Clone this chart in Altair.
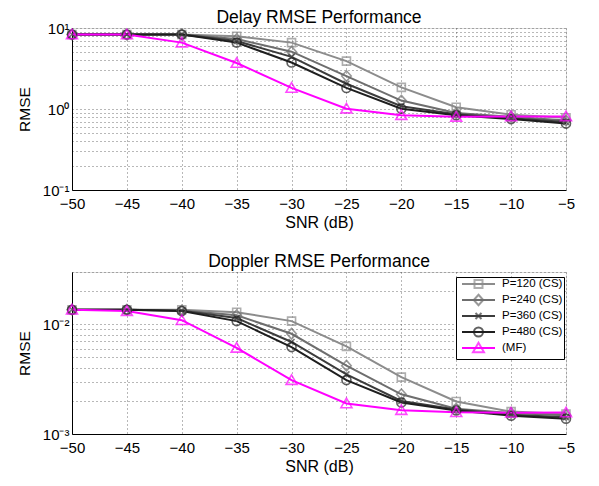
import altair as alt
import pandas as pd

snr = [-50, -45, -40, -35, -30, -25, -20, -15, -10, -5]
series = ["P=120 (CS)", "P=240 (CS)", "P=360 (CS)", "P=480 (CS)", "(MF)"]

delay_p120 = [8.3, 8.3, 8.3, 7.9, 6.6, 3.9, 1.85, 1.05, 0.85, 0.78]
delay_p240 = [8.3, 8.3, 8.3, 7.3, 5.1, 2.55, 1.27, 0.89, 0.80, 0.72]
delay_p360 = [8.3, 8.3, 8.3, 6.9, 4.4, 2.05, 1.08, 0.86, 0.77, 0.69]
delay_p480 = [8.3, 8.3, 8.3, 6.6, 3.75, 1.82, 1.01, 0.84, 0.75, 0.66]
delay_mf = [8.3, 8.3, 6.6, 3.7, 1.82, 1.01, 0.84, 0.80, 0.81, 0.81]

dop_p120 = [0.0136, 0.0136, 0.0136, 0.0129, 0.0107, 0.0063, 0.0033, 0.00198, 0.0016, 0.00152]
dop_p240 = [0.0136, 0.0136, 0.0134, 0.0121, 0.0082, 0.0042, 0.0023, 0.0017, 0.00155, 0.00148]
dop_p360 = [0.0136, 0.0136, 0.0133, 0.0114, 0.0069, 0.0035, 0.0020, 0.00167, 0.0015, 0.00142]
dop_p480 = [0.0136, 0.0136, 0.0132, 0.0107, 0.0062, 0.0031, 0.00194, 0.00164, 0.00147, 0.00138]
dop_mf = [0.0136, 0.0132, 0.0109, 0.0061, 0.0031, 0.0019, 0.00165, 0.00158, 0.00156, 0.00157]

colors = ["#8c8c8c", "#6e6e6e", "#3c3c3c", "#1e1e1e", "#ff00ff"]
# equal invisible vertical extents keep every legend row the same height
PAD = "M0,-1.05l0,0M0,1.05l0,0"
marker_paths = [
    "M-0.8,-0.8H0.8V0.8H-0.8Z" + PAD,
    "M0,-1.05L0.95,0L0,1.05L-0.95,0Z" + PAD,
    "M-0.6,-0.6L0.6,0.6M-0.6,0.6L0.6,-0.6" + PAD,
    "M-0.9,0A0.9,0.9 0 1,0 0.9,0A0.9,0.9 0 1,0 -0.9,0Z" + PAD,
    "M0,-1.05L1.1,0.85L-1.1,0.85Z" + PAD,
]
LINE_PATH = "M-3.3,0H3.3" + PAD
series_line = [s + " " for s in series]  # separate key so the line legend is not merged


def make_df(vals):
    rows = []
    for name, v in zip(series, vals):
        for s, y in zip(snr, v):
            rows.append({"SNR": s, "RMSE": y, "Method": name, "Method2": name + " "})
    return pd.DataFrame(rows)


df_delay = make_df([delay_p120, delay_p240, delay_p360, delay_p480, delay_mf])
df_dop = make_df([dop_p120, dop_p240, dop_p360, dop_p480, dop_mf])

FONT = "Liberation Sans"
LX, LY = 384, 5


def panel(df, title, ydomain, yvals, labels, with_legend):
    lab_expr = " : ".join(f"datum.value == {v} ? '{t}'" for v, t in labels) + " : ''"
    x = alt.X("SNR:Q", scale=alt.Scale(domain=[-50, -5], nice=False),
              axis=alt.Axis(values=snr, title="SNR (dB)", grid=True, gridDash=[1, 3],
                            gridColor="#333", gridWidth=0.7, ticks=False, labelPadding=6,
                            labelFlush=False,
                            labelFontSize=15, titleFontSize=16, titleFontWeight="normal",
                            titlePadding=3, labelColor="black", titleColor="black",
                            domainColor="black", labelFont=FONT, titleFont=FONT))
    y = alt.Y("RMSE:Q", scale=alt.Scale(type="log", domain=ydomain, nice=False),
              axis=alt.Axis(values=yvals, labelExpr=lab_expr, title="RMSE", grid=True,
                            gridDash=[1, 3], gridColor="#333", gridWidth=0.7, ticks=False,
                            labelFontSize=15, titleFontSize=15.5, titleFontWeight="normal",
                            labelColor="black", titleColor="black", domainColor="black",
                            labelFont=FONT, titleFont=FONT, labelPadding=3, titlePadding=10,
                            labelOverlap=False))
    common = dict(title=None, orient="none", legendX=LX, legendY=LY, padding=1,
                  labelFontSize=11.5, labelFont=FONT, symbolSize=100, symbolOffset=15.5,
                  labelOffset=17.5, rowPadding=-7.2, symbolStrokeWidth=2)
    if with_legend:
        legA = alt.Legend(strokeColor="black", fillColor="white", labelColor="black",
                          symbolType=LINE_PATH, zindex=1, **common)
        legB = alt.Legend(labelColor="transparent", zindex=2, **common)
    else:
        legA = None
        legB = None
    strokeA = alt.Stroke("Method2:N", scale=alt.Scale(domain=series_line, range=colors), legend=legA)
    colorB = alt.Color("Method:N", scale=alt.Scale(domain=series, range=colors), legend=legB)
    shapeB = alt.Shape("Method:N", scale=alt.Scale(domain=series, range=marker_paths), legend=legB)
    lines = alt.Chart(df).mark_line(strokeWidth=2).encode(x=x, y=y, stroke=strokeA)
    pts = alt.Chart(df).mark_point(filled=False, size=100, strokeWidth=1.6).encode(
        x=x, y=y, color=colorB, shape=shapeB)
    return alt.layer(lines, pts).properties(
        width=494, height=162,
        title=alt.TitleParams(title, fontSize=17.5, fontWeight="normal", font=FONT,
                              color="black", offset=-5))


top = panel(df_delay, "Delay RMSE Performance", [0.1, 10],
            [round(k * 10 ** e, 6) for e in (-1, 0) for k in range(1, 10)] + [10],
            [(10, "10¹"), (1, "10⁰"), (0.1, "10⁻¹")], False)
bottom = panel(df_dop, "Doppler RMSE Performance", [0.001, 0.03],
               [round(k * 10 ** e, 6) for e in (-3,) for k in range(1, 10)] + [0.01, 0.02, 0.03],
               [(0.01, "10⁻²"), (0.001, "10⁻³")], True)

chart = alt.vconcat(top, bottom, spacing=21).resolve_scale(
    color="independent", shape="independent", stroke="independent").resolve_legend(
    color="independent", shape="independent", stroke="independent").configure_view(
    stroke="black", strokeWidth=1).configure(
    background="white", padding={"left": 8, "top": 0, "right": 0, "bottom": 0})

chart.save("out.html", embed_options={"renderer": "svg", "actions": False})
